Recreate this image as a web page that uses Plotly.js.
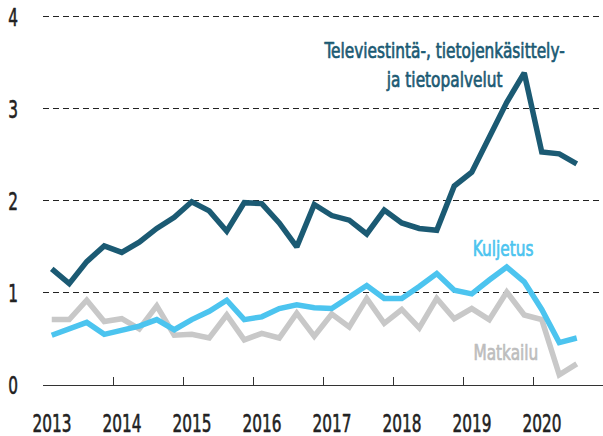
<!DOCTYPE html>
<html>
<head>
<meta charset="utf-8">
<script src="https://cdn.plot.ly/plotly-3.0.1.min.js"></script>
<style>
  html, body { margin: 0; padding: 0; background: #fff; }
  #chart { width: 603px; height: 436px; }
</style>
</head>
<body>
<div id="chart"></div>
<script>
// Quarters (year, quarter)
const quarters = [
  "2013Q1","2013Q2","2013Q3","2013Q4",
  "2014Q1","2014Q2","2014Q3","2014Q4",
  "2015Q1","2015Q2","2015Q3","2015Q4",
  "2016Q1","2016Q2","2016Q3","2016Q4",
  "2017Q1","2017Q2","2017Q3","2017Q4",
  "2018Q1","2018Q2","2018Q3","2018Q4",
  "2019Q1","2019Q2","2019Q3","2019Q4",
  "2020Q1","2020Q2","2020Q3"
];
const televiestinta = [1.26,1.10,1.34,1.51,1.44,1.55,1.70,1.82,1.99,1.89,1.67,1.98,1.97,1.76,1.50,1.96,1.84,1.79,1.64,1.90,1.76,1.70,1.68,2.16,2.31,2.70,3.07,3.39,2.53,2.51,2.40];
const kuljetus      = [0.54,0.61,0.68,0.55,0.59,0.64,0.71,0.60,0.71,0.80,0.92,0.71,0.74,0.83,0.87,0.84,0.83,0.96,1.08,0.94,0.94,1.07,1.21,1.03,0.99,1.14,1.28,1.12,0.82,0.46,0.51];
const matkailu      = [0.71,0.71,0.92,0.69,0.72,0.61,0.86,0.54,0.55,0.51,0.76,0.49,0.56,0.51,0.78,0.53,0.77,0.63,0.94,0.67,0.82,0.62,0.94,0.72,0.83,0.71,1.01,0.76,0.71,0.11,0.23];
const yearTicks  = [2013,2014,2015,2016,2017,2018,2019,2020];
const yearLabels = ["2013","2014","2015","2016","2017","2018","2019","2020"];
const yTicks = [0,1,2,3,4];
const seriesNames = ["Televiestintä-, tietojenkäsittely-<br>ja tietopalvelut","Kuljetus","Matkailu"];

// quarter -> decimal year at middle of quarter
const xq = quarters.map(s => {
  const y = parseInt(s.slice(0,4),10), q = parseInt(s.slice(5),10);
  return y + (q - 0.5) / 4;
});

const FONT = '"Liberation Sans Narrow", "DejaVu Sans Condensed", "Liberation Sans", sans-serif';
const cDark = '#1b5a73', cCyan = '#4cc4ef', cGray = '#c8c8c8';

const traces = [
  {x: xq, y: matkailu, type: 'scatter', mode: 'lines', name: 'Matkailu',
   line: {color: cGray, width: 5.5}, hoverinfo: 'skip', cliponaxis: false},
  {x: xq, y: kuljetus, type: 'scatter', mode: 'lines', name: 'Kuljetus',
   line: {color: cCyan, width: 5.5}, hoverinfo: 'skip', cliponaxis: false},
  {x: xq, y: televiestinta, type: 'scatter', mode: 'lines', name: 'Tele',
   line: {color: cDark, width: 5.5}, hoverinfo: 'skip', cliponaxis: false}
];

const layout = {
  width: 603, height: 436,
  margin: {l: 43, r: 0, t: 12.4, b: 51, pad: 0},
  paper_bgcolor: '#fff', plot_bgcolor: '#fff',
  showlegend: false,
  font: {family: FONT, color: '#222'},
  xaxis: {
    range: [2013, 2021], tickmode: 'array', tickvals: yearTicks, ticktext: yearLabels,
    ticks: 'inside', ticklen: 8, tickwidth: 1, tickcolor: '#333',
    showline: true, linecolor: '#333', linewidth: 1,
    showgrid: false, zeroline: false,
    ticklabelshift: 9, ticklabelstandoff: 15,
    tickfont: {family: FONT, size: 25.5, color: '#222'}
  },
  yaxis: {
    range: [0, 4.05], tickmode: 'array', tickvals: yTicks, ticktext: yTicks.map(String),
    showgrid: true, gridcolor: '#222', gridwidth: 1, griddash: '6px,4px',
    zeroline: false, showline: false, ticks: '',
    ticklabelstandoff: 24,
    tickfont: {family: FONT, size: 25.5, color: '#222'}
  },
  annotations: [
    {text: seriesNames[0], xref: 'paper', yref: 'paper', x: 0.717, y: 0.858,
     xanchor: 'center', yanchor: 'middle', align: 'center', showarrow: false,
     font: {family: FONT, size: 22, color: cDark}},
    {text: seriesNames[1], xref: 'paper', yref: 'paper', x: 0.821, y: 0.365,
     xanchor: 'center', yanchor: 'middle', showarrow: false,
     font: {family: FONT, size: 22, color: cCyan}},
    {text: seriesNames[2], xref: 'paper', yref: 'paper', x: 0.827, y: 0.086,
     xanchor: 'center', yanchor: 'middle', showarrow: false,
     font: {family: FONT, size: 22, color: '#bdbdbd'}}
  ]
};

// horizontally condense text to imitate the narrow, semi-bold typeface of the original
function squeezeText(t, s, mode, sw) {
  const b = t.getBBox();
  const cx = mode === 'end' ? b.x + b.width : b.x + b.width / 2;
  const tr = t.getAttribute('transform') || '';
  t.setAttribute('transform', tr + ' translate(' + cx + ',0) scale(' + s + ',1) translate(' + (-cx) + ',0)');
  const fill = t.style.fill || window.getComputedStyle(t).fill;
  t.style.stroke = fill;
  t.style.strokeWidth = sw + 'px';
  t.style.strokeLinejoin = 'round';
}

const gd = document.getElementById('chart');
Plotly.newPlot(gd, traces, layout, {displayModeBar: false, staticPlot: true}).then(() => {
  const xt = gd.querySelectorAll('.xtick text');
  const yt = gd.querySelectorAll('.ytick text');
  const an = gd.querySelectorAll('.annotation-text');
  if (xt.length) {
    const w = xt[0].getBBox().width;
    const s = Math.min(1, 39 / w);
    xt.forEach(t => squeezeText(t, s, 'center', 0.6));
    yt.forEach(t => squeezeText(t, s, 'end', 0.6));
  }
  if (an.length) {
    const w = an[0].getBBox().width;
    const s = Math.min(1, 241 / w);
    an.forEach(t => squeezeText(t, s, 'center', 0.7));
  }
});
</script>
</body>
</html>
